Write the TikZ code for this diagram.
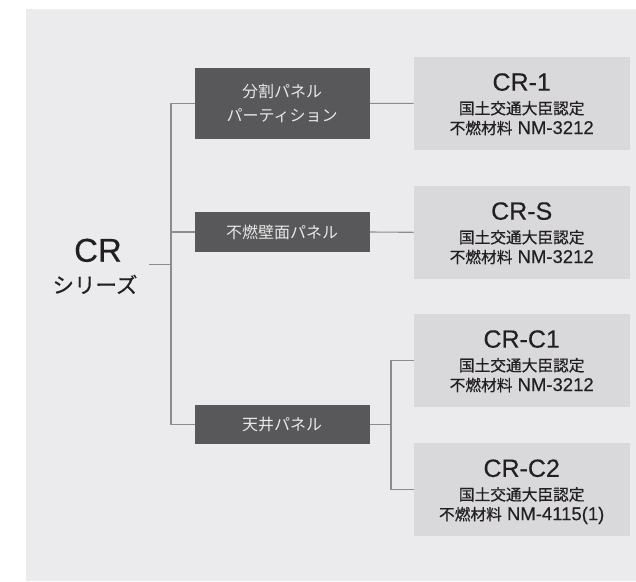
\documentclass[tikz,border=0pt]{standalone}
\usepackage{fontspec}
\setmainfont{Liberation Sans}
\newfontfamily\latm[FakeBold=0.3]{Liberation Sans}
\newfontfamily\cjk[FakeBold=0.5]{Noto Sans CJK JP}
\newfontfamily\cjkl{Noto Sans CJK JP}
\usetikzlibrary{calc}
\definecolor{bgc}{HTML}{EBEBED}
\definecolor{darkc}{HTML}{58585A}
\definecolor{lightc}{HTML}{D9D9DB}
\definecolor{linec}{HTML}{8C8C8C}
\definecolor{tc}{HTML}{231F20}
\definecolor{dtext}{HTML}{E8E8E8}
\tikzset{
  darkbox/.style={fill=darkc, draw=none, minimum width=174.9pt, inner sep=0pt,
    text=dtext, align=center, font=\cjkl\fontsize{16}{23.2}\selectfont},
  lightbox/.style={fill=lightc, draw=none, minimum width=216pt, minimum height=92.7pt, inner sep=0pt},
  conn/.style={draw=linec, line width=1.1pt},
  titletxt/.style={anchor=base, text=tc, inner sep=0pt, font=\latm\fontsize{25}{30}\selectfont},
  subtxt/.style={anchor=base, text=tc, inner sep=0pt, font=\cjk\fontsize{15.7}{19}\selectfont},
  sublat/.style={anchor=base, text=tc, inner sep=0pt, font=\latm\fontsize{18.5}{20}\selectfont},
}
\newcommand{\jp}[1]{{\cjk\fontsize{15.7}{19}\selectfont #1}}
\begin{document}
\begin{tikzpicture}[x=1pt,y=-1pt]
\useasboundingbox (0,0) rectangle (636,581);
\fill[bgc] (25.5,9) rectangle (636,581);

% root
\node[anchor=base, text=tc, inner sep=0pt, font=\latm\fontsize{33}{36}\selectfont] (cr) at (98,261.7) {CR};
\node[anchor=base, text=tc, inner sep=0pt, font=\cjk\fontsize{21.5}{24}\selectfont] (crs) at (95,293) {シリーズ};
\coordinate (crout) at (149,264.3);
\coordinate (j1) at (171,264.3);
\coordinate (j2) at (391,424.7);

% dark boxes
\node[darkbox, minimum height=70.7pt] (d1) at (282.2,103.4) {分割パネル\\パーティション};
\node[darkbox, minimum height=39.4pt] (d2) at (282.2,232) {不燃壁面パネル};
\node[darkbox, minimum height=39.3pt] (d3) at (282.2,424.7) {天井パネル};

% light boxes
\node[lightbox] (l1) at (521.7,103.3) {};
\node[lightbox] (l2) at (521.7,232.3) {};
\node[lightbox] (l3) at (521.7,360.3) {};
\node[lightbox] (l4) at (521.7,489.5) {};

\node[titletxt] (t1) at ($(l1.center)+(0,-12.6)$) {CR-1};
\node[subtxt]   (a1) at ($(l1.center)+(0,10.9)$) {国土交通大臣認定};
\node[sublat]   (b1) at ($(l1.center)+(0,30.7)$) {\jp{不燃材料} NM-3212};

\node[titletxt] (t2) at ($(l2.center)+(0,-12.6)$) {CR-S};
\node[subtxt]   (a2) at ($(l2.center)+(0,10.9)$) {国土交通大臣認定};
\node[sublat]   (b2) at ($(l2.center)+(0,30.7)$) {\jp{不燃材料} NM-3212};

\node[titletxt] (t3) at ($(l3.center)+(0,-12.6)$) {CR-C1};
\node[subtxt]   (a3) at ($(l3.center)+(0,10.9)$) {国土交通大臣認定};
\node[sublat]   (b3) at ($(l3.center)+(0,30.7)$) {\jp{不燃材料} NM-3212};

\node[titletxt] (t4) at ($(l4.center)+(0,-12.6)$) {CR-C2};
\node[subtxt]   (a4) at ($(l4.center)+(0,10.9)$) {国土交通大臣認定};
\node[sublat]   (b4) at ($(l4.center)+(0,30.7)$) {\jp{不燃材料} NM-4115(1)};

% connectors
\draw[conn] (crout) -- (j1);
\draw[conn] (d1.west) -| (j1);
\draw[conn] (d3.west) -| (j1);
\draw[conn] (d2.west) -- (d2.west -| j1);
\draw[conn] (d1.east) -- (l1.west);
\draw[conn] (d2.east) -- (l2.west);
\draw[conn] (d3.east) -- (j2);
\draw[conn] (l3.west) -| (j2);
\draw[conn] (l4.west) -| (j2);
\end{tikzpicture}
\end{document}
